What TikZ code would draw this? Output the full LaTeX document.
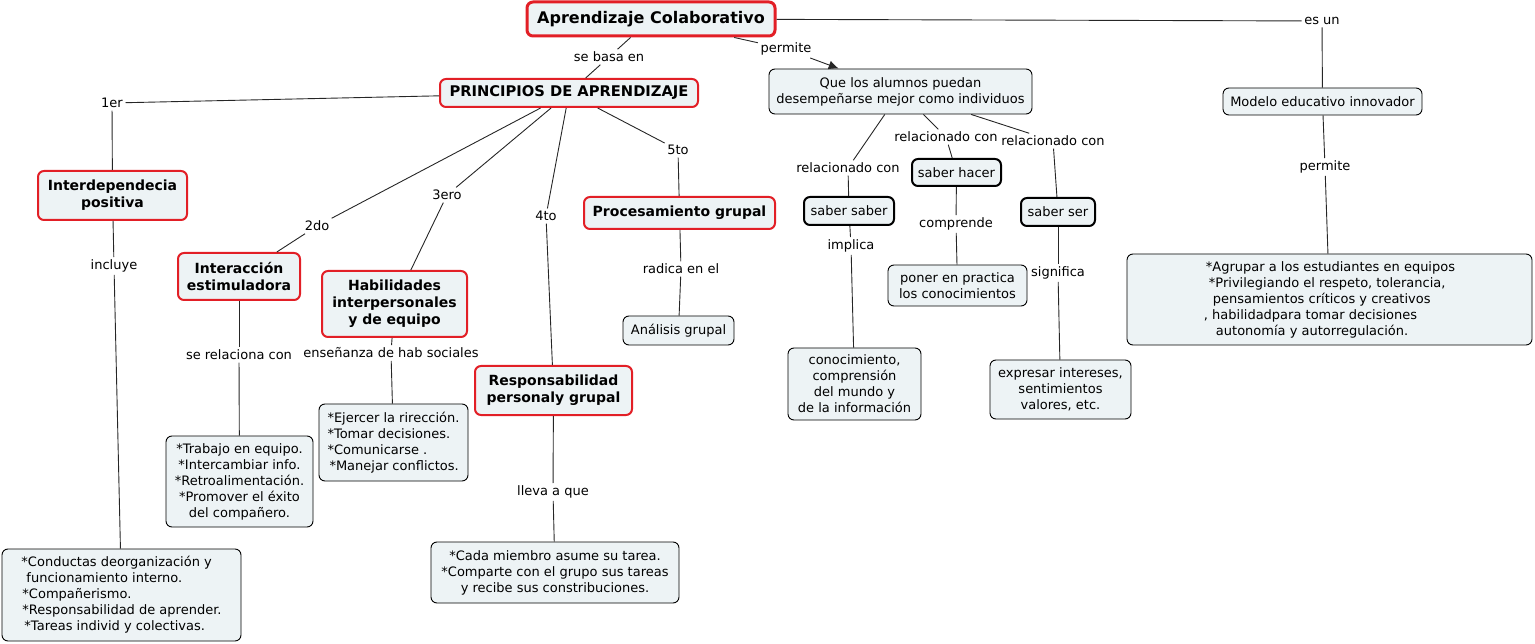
\documentclass[tikz,border=0pt]{standalone}
\usepackage{fontspec}
\newfontfamily\dv{DejaVu Sans}
\usetikzlibrary{arrows.meta}
\definecolor{nodefill}{HTML}{EDF3F5}
\definecolor{redc}{HTML}{E21F26}
\newcommand{\regf}{\dv\fontsize{13}{16}\selectfont}
\newcommand{\boldf}{\dv\bfseries\fontsize{14}{17}\selectfont}
\newcommand{\capsf}{\dv\bfseries\fontsize{14.7}{17}\selectfont}
\newcommand{\titlef}{\dv\bfseries\fontsize{16}{18}\selectfont}
\tikzset{
  base/.style={rounded corners=6pt, fill=nodefill, align=center, inner sep=2pt, font=\regf},
  redbox/.style={base, draw=redc, line width=2pt, font=\boldf},
  titlebox/.style={redbox, line width=3pt, font=\titlef},
  blkbox/.style={base, draw=black, line width=0.9pt},
  blkthick/.style={base, draw=black, line width=2pt},
  lbl/.style={font=\regf, inner sep=2.5pt},
  conn/.style={draw=black!85, line width=0.9pt},
}
\begin{document}
\begin{tikzpicture}[x=1pt,y=-1pt]
\useasboundingbox (0,0) rectangle (1535,644);
% main nodes
\node[titlebox, minimum width=248, minimum height=34] (ac) at (651,19) {Aprendizaje Colaborativo};
\node[redbox, font=\capsf, minimum width=258, minimum height=28] (pa) at (569,93) {PRINCIPIOS DE APRENDIZAJE};
\node[blkbox, minimum width=263, minimum height=45] (que) at (900.5,91.5) {Que los alumnos puedan\\desempeñarse mejor como individuos};
\node[blkbox, minimum width=199, minimum height=27] (mei) at (1322.5,101.5) {Modelo educativo innovador};
\node[redbox, minimum width=149, minimum height=49] (ip) at (112.5,195.5) {Interdependecia\\positiva};
\node[redbox, minimum width=122, minimum height=47] (ie) at (239,276.5) {Interacción\\estimuladora};
\node[redbox, minimum width=145, minimum height=66] (hi) at (394.5,304) {Habilidades\\interpersonales\\y de equipo};
\node[redbox, minimum width=157, minimum height=49] (rp) at (553.5,390.5) {Responsabilidad\\personaly grupal};
\node[redbox, minimum width=191, minimum height=32] (pg) at (679.5,213) {Procesamiento grupal};
\node[blkbox, minimum width=111, minimum height=29] (ag) at (678.5,330.5) {Análisis grupal};
\node[blkthick, minimum width=90, minimum height=28] (ss) at (849,211) {saber saber};
\node[blkthick, minimum width=89, minimum height=27] (sh) at (956.5,172.5) {saber hacer};
\node[blkthick, minimum width=74, minimum height=28] (sser) at (1058,212) {saber ser};
\node[blkbox, minimum width=139, minimum height=41] (pp) at (957.5,285.5) {poner en practica\\los conocimientos};
\node[blkbox, minimum width=133, minimum height=72] (cc) at (854.5,384) {conocimiento,\\comprensión\\del mundo y\\de la información};
\node[blkbox, minimum width=141, minimum height=59] (ex) at (1060.5,389.5) {expresar intereses,\\sentimientos\\valores, etc.};
\node[blkbox, minimum width=405, minimum height=91, align=left] (ag2) at (1329.5,299.5) {\hspace*{2pt}*Agrupar a los estudiantes en equipos\\\hspace*{5pt}*Privilegiando el respeto, tolerancia,\\\hspace*{9pt}pensamientos críticos y creativos\\, habilidadpara tomar decisiones\\\hspace*{12pt}autonomía y autorregulación.};
\node[blkbox, minimum width=147, minimum height=91] (tr) at (239.5,481.5) {*Trabajo en equipo.\\*Intercambiar info.\\*Retroalimentación.\\*Promover el éxito\\del compañero.};
\node[blkbox, minimum width=149, minimum height=77, align=left] (ej) at (393.5,442.5) {*Ejercer la rirección.\\*Tomar decisiones.\\*Comunicarse .\\\hspace*{2pt}*Manejar conflictos.};
\node[blkbox, minimum width=239, minimum height=92, align=left] (cd) at (121.5,595) {*Conductas deorganización y\\\hspace*{5pt}funcionamiento interno.\\\hspace*{1pt}*Compañerismo.\\\hspace*{1pt}*Responsabilidad de aprender.\\\hspace*{3pt}*Tareas individ y colectivas.};
\node[blkbox, minimum width=248, minimum height=61] (cm) at (555,572.5) {*Cada miembro asume su tarea.\\*Comparte con el grupo sus tareas\\y recibe sus constribuciones.};
% labels
\node[lbl] (l1) at (609,57) {se basa en};
\node[lbl] (l2) at (786,49) {permite};
\node[lbl] (l3) at (1322,21) {es un};
\node[lbl] (l4) at (112,103) {1er};
\node[lbl] (l5) at (317,226) {2do};
\node[lbl] (l6) at (447,195) {3ero};
\node[lbl] (l7) at (546,216) {4to};
\node[lbl] (l8) at (678,150) {5to};
\node[lbl] (l9) at (114,266) {incluye};
\node[lbl] (l10) at (239,355) {se relaciona con};
\node[lbl] (l11) at (391,353) {enseñanza de hab sociales};
\node[lbl] (l12) at (553,492) {lleva a que};
\node[lbl] (l13) at (681,269) {radica en el};
\node[lbl] (l14) at (848,168) {relacionado con};
\node[lbl] (l15) at (946,137) {relacionado con};
\node[lbl] (l16) at (1053,141) {relacionado con};
\node[lbl] (l17) at (851,246) {implica};
\node[lbl] (l18) at (956,224) {comprende};
\node[lbl] (l19) at (1058,273) {significa};
\node[lbl] (l20) at (1325,167) {permite};
% connectors
\draw[conn] (ac) -- (l1); \draw[conn] (l1) -- (pa);
\draw[conn] (ac) -- (l2); \draw[conn, -{Latex[length=10pt,width=9pt]}] (l2) -- (que);
\draw[conn] (ac) -- (l3); \draw[conn] (l3) -- (mei);
\draw[conn] (pa) -- (l4); \draw[conn] (l4) -- (ip);
\draw[conn] (pa) -- (l5); \draw[conn] (l5) -- (ie);
\draw[conn] (pa) -- (l6); \draw[conn] (l6) -- (hi);
\draw[conn] (pa) -- (l7); \draw[conn] (l7) -- (rp);
\draw[conn] (pa) -- (l8); \draw[conn] (l8) -- (pg);
\draw[conn] (ip) -- (l9); \draw[conn] (l9) -- (cd);
\draw[conn] (ie) -- (l10); \draw[conn] (l10) -- (tr);
\draw[conn] (hi) -- (l11); \draw[conn] (l11) -- (ej);
\draw[conn] (rp) -- (l12); \draw[conn] (l12) -- (cm);
\draw[conn] (pg) -- (l13); \draw[conn] (l13) -- (ag);
\draw[conn] (que) -- (l14); \draw[conn] (l14) -- (ss);
\draw[conn] (que) -- (l15); \draw[conn] (l15) -- (sh);
\draw[conn] (que) -- (l16); \draw[conn] (l16) -- (sser);
\draw[conn] (ss) -- (l17); \draw[conn] (l17) -- (cc);
\draw[conn] (sh) -- (l18); \draw[conn] (l18) -- (pp);
\draw[conn] (sser) -- (l19); \draw[conn] (l19) -- (ex);
\draw[conn] (mei) -- (l20); \draw[conn] (l20) -- (ag2);
\end{tikzpicture}
\end{document}
